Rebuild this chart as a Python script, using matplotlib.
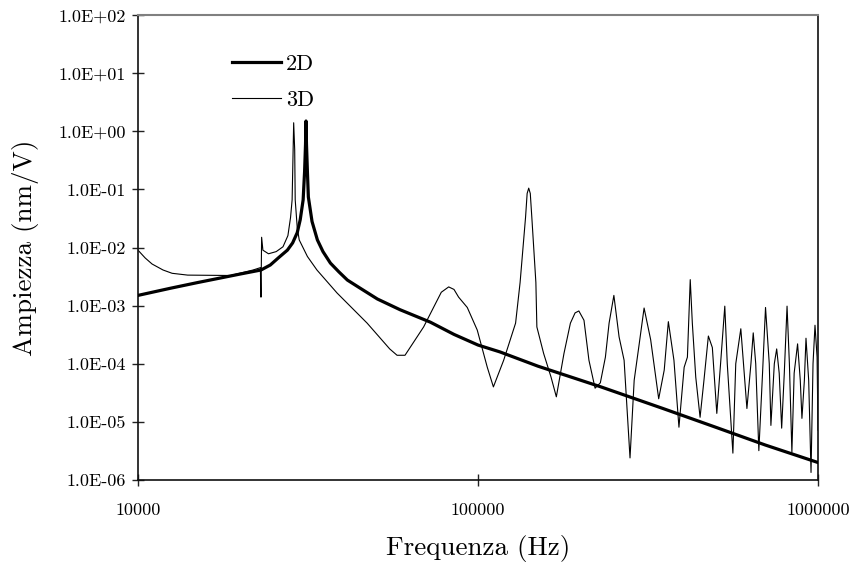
import numpy as np
import matplotlib
matplotlib.use('Agg')
import matplotlib.pyplot as plt
from matplotlib.ticker import FixedLocator, FuncFormatter, NullLocator

plt.rcParams['font.family'] = ['cmr10', 'DejaVu Serif']
plt.rcParams['axes.unicode_minus'] = False

# 2D model response
f2d = [1.0e4, 1.25e4, 1.5e4, 2.0e4, 2.3e4, 2.45e4, 2.6e4, 2.75e4, 2.85e4, 2.94e4,
       3.0e4, 3.06e4, 3.09e4, 3.11e4, 3.12e4, 3.13e4, 3.15e4, 3.17e4, 3.25e4,
       3.37e4, 3.5e4, 3.68e4, 3.9e4, 4.13e4, 4.5e4, 5.06e4, 5.9e4, 7.24e4,
       8.5e4, 1.0e5, 1.16e5, 1.5e5, 2.3e5, 3.5e5, 5.0e5, 7.0e5, 1.0e6]
a2d = [1.5e-3, 2.0e-3, 2.5e-3, 3.5e-3, 4.1e-3, 5.0e-3, 6.8e-3, 9.0e-3, 1.2e-2, 1.8e-2,
       3.0e-2, 6.6e-2, 0.2, 0.6, 1.5, 0.6, 0.2, 7.4e-2, 2.8e-2,
       1.35e-2, 8.5e-3, 5.4e-3, 3.8e-3, 2.75e-3, 2.0e-3, 1.3e-3, 8.5e-4, 5.2e-4,
       3.2e-4, 2.1e-4, 1.6e-4, 9.1e-5, 4.0e-5, 1.7e-5, 8.1e-6, 4.0e-6, 2.0e-6]

# 3D model response
f3d = [1.0e4, 1.05e4, 1.1e4, 1.185e4, 1.26e4, 1.4e4, 1.87e4, 2.18e4, 2.29e4,
       2.30e4, 2.31e4, 2.33e4, 2.42e4, 2.55e4, 2.67e4, 2.76e4, 2.81e4, 2.84e4,
       2.87e4, 2.89e4, 2.90e4, 2.94e4, 2.98e4, 3.15e4, 3.36e4, 3.85e4, 4.72e4,
       5.5e4, 5.78e4, 6.1e4, 6.92e4, 7.4e4, 7.8e4, 8.2e4, 8.5e4, 8.77e4, 9.3e4,
       9.95e4, 1.065e5, 1.11e5, 1.19e5, 1.29e5, 1.33e5, 1.38e5, 1.395e5, 1.41e5,
       1.425e5, 1.44e5, 1.48e5, 1.49e5, 1.56e5, 1.64e5, 1.70e5, 1.79e5, 1.87e5,
       1.93e5, 1.98e5, 2.05e5, 2.12e5, 2.21e5, 2.29e5, 2.37e5, 2.43e5, 2.51e5,
       2.60e5, 2.69e5, 2.80e5, 2.88e5, 2.98e5, 3.08e5, 3.22e5, 3.40e5, 3.53e5,
       3.63e5, 3.77e5, 3.90e5, 4.04e5, 4.13e5, 4.21e5, 4.27e5, 4.37e5, 4.50e5,
       4.62e5, 4.76e5, 4.89e5, 5.04e5, 5.17e5, 5.32e5, 5.41e5, 5.62e5, 5.73e5,
       5.93e5, 6.18e5, 6.35e5, 6.45e5, 6.56e5, 6.70e5, 6.87e5, 7.01e5, 7.19e5,
       7.27e5, 7.44e5, 7.56e5, 7.69e5, 7.82e5, 7.96e5, 8.11e5, 8.24e5, 8.38e5,
       8.51e5, 8.71e5, 8.87e5, 8.97e5, 9.12e5, 9.22e5, 9.39e5, 9.54e5, 9.67e5,
       9.80e5, 9.94e5, 1.0e6]
a3d = [9.0e-3, 6.6e-3, 5.2e-3, 4.1e-3, 3.6e-3, 3.35e-3, 3.3e-3, 4.1e-3, 4.5e-3,
       1.4e-3, 1.5e-2, 9.0e-3, 7.8e-3, 8.5e-3, 1.03e-2, 1.6e-2, 3.3e-2, 6.6e-2,
       1.4, 0.48, 6.6e-2, 2.2e-2, 1.35e-2, 7.0e-3, 4.1e-3, 1.65e-3, 5.0e-4,
       1.8e-4, 1.4e-4, 1.4e-4, 4.3e-4, 9.3e-4, 1.7e-3, 2.1e-3, 1.9e-3, 1.4e-3, 9.3e-4,
       3.8e-4, 8.7e-5, 4.0e-5, 1.15e-4, 5.0e-4, 2.5e-3, 3.3e-2, 8.5e-2, 0.105,
       8.5e-2, 3.3e-2, 2.5e-3, 4.3e-4, 1.5e-4, 5.9e-5, 2.7e-5, 1.5e-4, 5.0e-4,
       7.5e-4, 8.1e-4, 5.6e-4, 1.15e-4, 3.8e-5, 4.7e-5, 1.3e-4, 5.0e-4, 1.5e-3,
       2.9e-4, 1.15e-4, 2.4e-6, 5.2e-5, 2.2e-4, 9.1e-4, 2.6e-4, 2.5e-5, 7.8e-5,
       5.3e-4, 1.15e-4, 8.1e-6, 8.7e-5, 1.3e-4, 2.8e-3, 5.0e-4, 5.9e-5, 1.2e-5,
       5.2e-5, 3.0e-4, 1.9e-4, 1.4e-5, 1.0e-4, 9.8e-4, 1.0e-4, 2.9e-6, 1.0e-4,
       4.0e-4, 1.7e-5, 1.0e-4, 3.4e-4, 1.0e-4, 3.2e-6, 6.9e-5, 9.3e-4, 1.0e-4,
       8.7e-6, 1.0e-4, 1.8e-4, 6.9e-5, 7.8e-6, 6.9e-5, 9.8e-4, 1.0e-4, 3.0e-6,
       6.9e-5, 2.2e-4, 5.2e-5, 1.15e-5, 5.2e-5, 2.75e-4, 5.2e-5, 1.35e-6, 1.0e-4,
       4.6e-4, 1.3e-4, 7.2e-6]

xticks = [1e4, 1e5, 1e6]
yticks = [1e-6, 1e-5, 1e-4, 1e-3, 1e-2, 1e-1, 1e0, 1e1, 1e2]

fig = plt.figure(figsize=(8.55, 5.72), dpi=100)
ax = fig.add_axes([0.1614, 0.1608, 0.7953, 0.813])

ax.plot(f2d, a2d, color='black', lw=2.3, label='2D', zorder=3)
ax.plot(f3d, a3d, color='black', lw=0.8, label='3D', zorder=2)

ax.set_xscale('log')
ax.set_yscale('log')
ax.set_xlim(1e4, 1e6)
ax.set_ylim(1e-6, 1e2)

ax.xaxis.set_major_locator(FixedLocator(xticks))
ax.yaxis.set_major_locator(FixedLocator(yticks))
ax.xaxis.set_minor_locator(NullLocator())
ax.yaxis.set_minor_locator(NullLocator())
ax.xaxis.set_major_formatter(FuncFormatter(lambda v, p: '%d' % round(v)))
ax.yaxis.set_major_formatter(FuncFormatter(lambda v, p: '%.1E' % v))

ax.tick_params(direction='inout', length=9, width=1, labelsize=13, color='#222222')
ax.tick_params(axis='x', pad=12)
ax.tick_params(axis='y', pad=4)

for s in ['left', 'bottom', 'right']:
    ax.spines[s].set_color('#111111')
    ax.spines[s].set_linewidth(1.2)
ax.spines['top'].set_color('#808080')
ax.spines['top'].set_linewidth(1.5)

ax.set_xlabel('Frequenza (Hz)', fontsize=19.5, labelpad=12)
ax.set_ylabel('Ampiezza (nm/V)', fontsize=19.5, labelpad=14)

ax.legend(loc='upper left', bbox_to_anchor=(0.138, 0.915), frameon=False,
          fontsize=16, handlelength=2.2, handletextpad=0.25, labelspacing=0.72,
          borderpad=0, borderaxespad=0)

fig.savefig('out.png', dpi=100)
